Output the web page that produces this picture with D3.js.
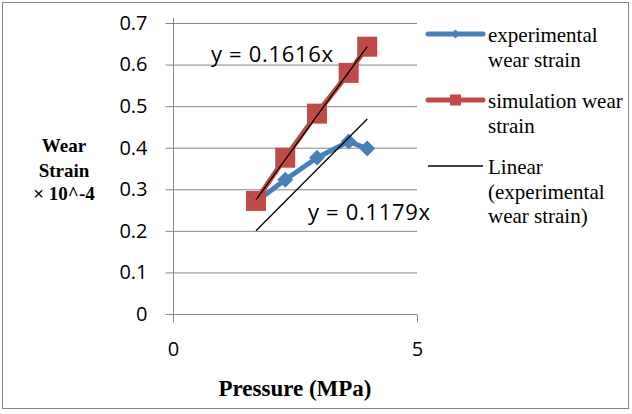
<!DOCTYPE html>
<meta charset="utf-8">
<style>
    body { margin: 0; background: #fff; }
    .tick text { font-family: "Open Sans", "Liberation Sans", sans-serif; font-size: 20px; fill: #000; }
    .axis path { stroke: #868686; }
    .axis line { stroke: #868686; }
    .serif { font-family: "Liberation Serif", "DejaVu Serif", serif; }
</style>
<svg width="632" height="414"></svg>
<script src="https://d3js.org/d3.v7.min.js"></script>
<script>
    // data
    var pressure = [1.7, 2.3, 2.95, 3.6, 3.98];
    var experimental = [0.27, 0.323, 0.376, 0.415, 0.398];
    var simulation = [0.272, 0.376, 0.482, 0.58, 0.643];
    var slopeExp = 0.1179, slopeSim = 0.1616;
    var xTicks = [0, 5];
    var yTicks = [0, 0.1, 0.2, 0.3, 0.4, 0.5, 0.6, 0.7];

    var svg = d3.select('svg');

    // outer border
    svg.append('rect')
        .attr('x', 2.5).attr('y', 2.5).attr('width', 626).attr('height', 406)
        .attr('fill', 'none').attr('stroke', '#868686');

    var margin = {left: 173, top: 23};

    var x = d3.scaleLinear().domain([0, 5]).range([0, 244]);
    var y = d3.scaleLinear().domain([0, 0.7]).range([291, 0]);

    var g = svg.append('g').attr('transform', 'translate(' + margin.left + ',' + margin.top + ')');

    // gridlines
    g.selectAll('.grid').data(yTicks.slice(1)).enter().append('line')
        .attr('x1', 0).attr('x2', x(5))
        .attr('y1', d => y(d) + 0.5).attr('y2', d => y(d) + 0.5)
        .attr('stroke', '#868686');

    var yAxis = g.append('g').attr('class', 'axis')
        .attr('transform', 'translate(0.5,0)')
        .call(d3.axisLeft(y).tickValues(yTicks).tickFormat(d => d === 0 ? '0' : d3.format('.1f')(d)).tickSize(8).tickPadding(18));
    yAxis.select('.domain').attr('d', 'M0,-5V' + y(0));

    var xAxis = g.append('g').attr('class', 'axis')
        .attr('transform', 'translate(0,' + (y(0) + 0.5) + ')')
        .call(d3.axisBottom(x).tickValues(xTicks).tickFormat(d3.format('d')).tickSize(8).tickPadding(19));
    xAxis.select('.domain').attr('d', 'M0,0H' + x(5));
    xAxis.selectAll('.tick line').attr('y1', 0).attr('y2', 8);

    var line = d3.line().x(d => x(d[0])).y(d => y(d[1]));

    var expPts = pressure.map((p, i) => [p, experimental[i]]);
    var simPts = pressure.map((p, i) => [p, simulation[i]]);

    // experimental series
    g.append('path').datum(expPts).attr('d', line)
        .attr('fill', 'none').attr('stroke', '#4a7ebb').attr('stroke-width', 5).attr('stroke-linejoin', 'round');
    g.selectAll('.dia').data(expPts).enter().append('path')
        .attr('d', d3.symbol(d3.symbolDiamond2, 160))
        .attr('transform', d => 'translate(' + x(d[0]) + ',' + y(d[1]) + ')')
        .attr('fill', '#4a7ebb');

    // simulation series
    g.append('path').datum(simPts).attr('d', line)
        .attr('fill', 'none').attr('stroke', '#be4b48').attr('stroke-width', 5).attr('stroke-linejoin', 'round');
    g.selectAll('.sq').data(simPts).enter().append('rect')
        .attr('x', d => x(d[0]) - 10).attr('y', d => y(d[1]) - 10)
        .attr('width', 20).attr('height', 20)
        .attr('fill', '#be4b48');

    // trendlines
    var x0 = pressure[0], x1 = pressure[pressure.length - 1];
    [slopeSim, slopeExp].forEach(function (s) {
        g.append('line')
            .attr('x1', x(x0)).attr('y1', y(s * x0))
            .attr('x2', x(x1)).attr('y2', y(s * x1))
            .attr('stroke', '#000').attr('stroke-width', 1.3);
    });

    // equation labels
    svg.append('text').attr('x', 211).attr('y', 62)
        .attr('font-family', '"Open Sans", sans-serif').attr('font-size', 22)
        .attr('textLength', 122)
        .text('y = ' + slopeSim + 'x');
    svg.append('text').attr('x', 308).attr('y', 220)
        .attr('font-family', '"Open Sans", sans-serif').attr('font-size', 22)
        .attr('textLength', 122)
        .text('y = ' + slopeExp + 'x');

    // axis titles
    var yt = svg.append('text').attr('class', 'serif').attr('font-weight', 'bold').attr('font-size', 19)
        .attr('text-anchor', 'middle');
    yt.append('tspan').attr('x', 64).attr('y', 152).text('Wear');
    yt.append('tspan').attr('x', 64).attr('y', 177).text('Strain');
    yt.append('tspan').attr('x', 64).attr('y', 200).text('× 10^-4');

    svg.append('text').attr('class', 'serif').attr('font-weight', 'bold').attr('font-size', 23)
        .attr('text-anchor', 'middle').attr('x', 295).attr('y', 396)
        .text('Pressure (MPa)');

    // legend
    var legend = [
        {color: '#4a7ebb', sym: 'dia', lines: ['experimental', 'wear strain'], y: 34},
        {color: '#be4b48', sym: 'sq', lines: ['simulation wear', 'strain'], y: 100},
        {color: '#000', sym: null, lines: ['Linear', '(experimental', 'wear strain)'], y: 166}
    ];
    legend.forEach(function (d) {
        svg.append('line').attr('x1', 428).attr('x2', 483).attr('y1', d.y).attr('y2', d.y)
            .attr('stroke', d.color).attr('stroke-width', d.sym ? 5 : 1.3).attr('stroke-linecap', d.sym ? 'round' : 'butt');
        if (d.sym === 'dia') {
            svg.append('path').attr('d', d3.symbol(d3.symbolDiamond2, 50))
                .attr('transform', 'translate(455.5,' + d.y + ')').attr('fill', d.color);
        } else if (d.sym === 'sq') {
            svg.append('rect').attr('x', 450).attr('y', d.y - 5.5).attr('width', 11).attr('height', 11).attr('fill', d.color);
        }
        var t = svg.append('text').attr('class', 'serif').attr('font-size', 21);
        d.lines.forEach(function (s, i) {
            t.append('tspan').attr('x', 488).attr('y', d.y + 8 + i * 24.5).text(s);
        });
    });
</script>
